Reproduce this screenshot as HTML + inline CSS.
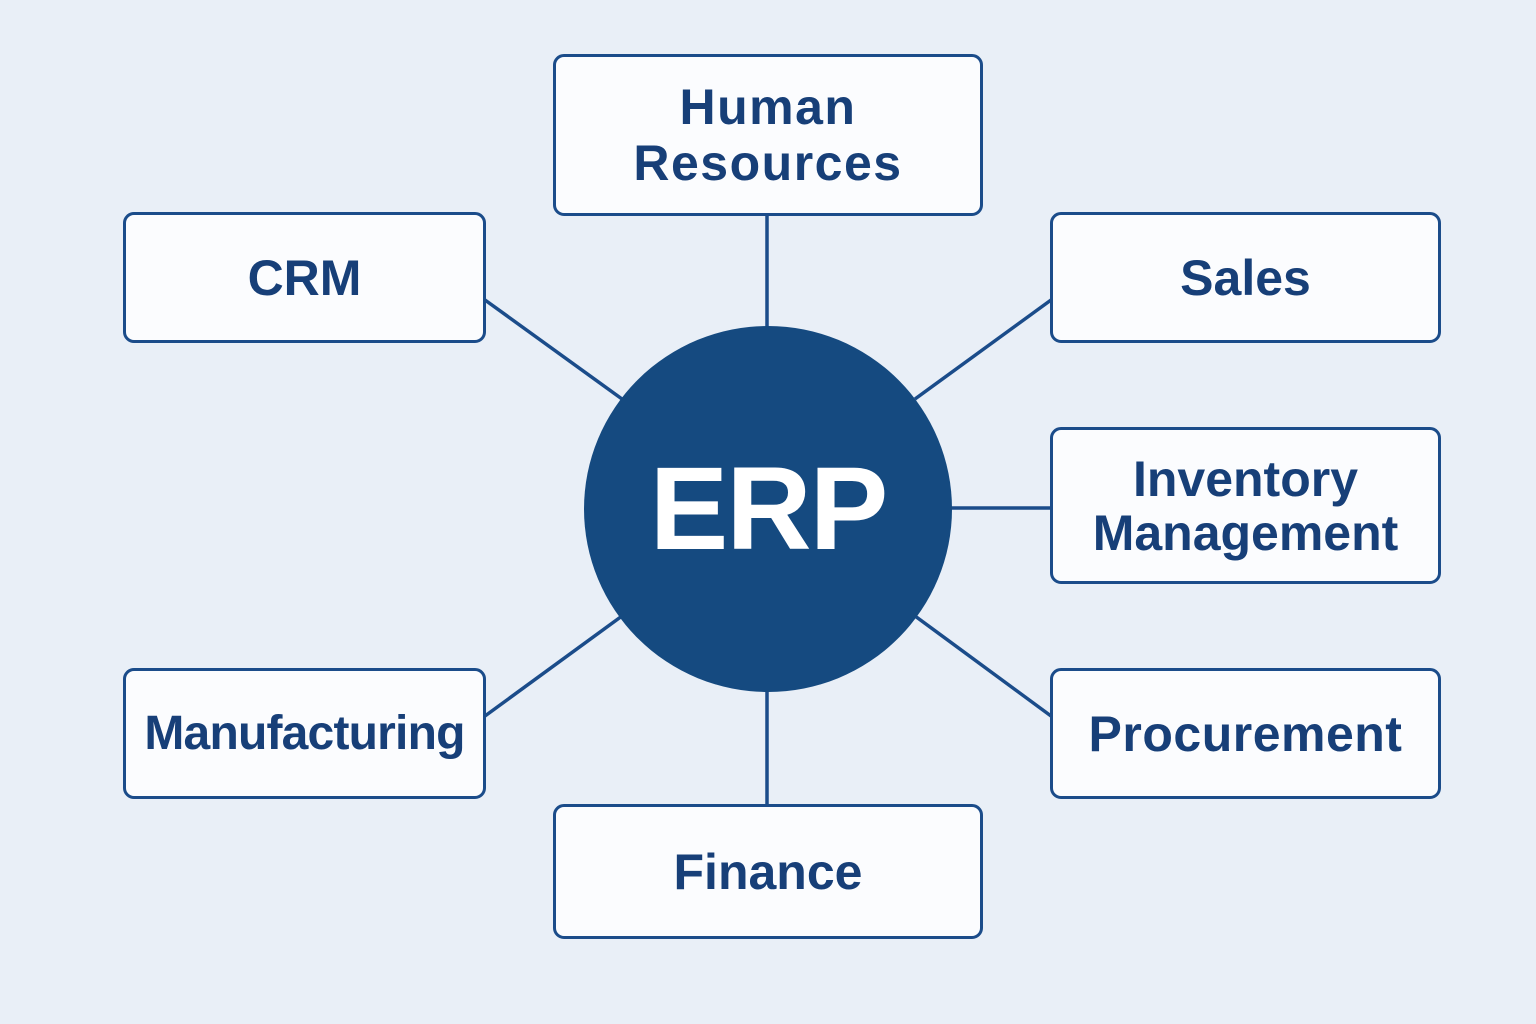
<!DOCTYPE html>
<html><head><meta charset="utf-8"><style>
html,body{margin:0;padding:0;}
body{width:1536px;height:1024px;background:#e9eff7;position:relative;overflow:hidden;font-family:"Liberation Sans",sans-serif;}
.b{position:absolute;box-sizing:border-box;border:3.5px solid #1b4c8a;border-radius:11px;background:#fbfcfe;display:flex;align-items:center;justify-content:center;text-align:center;color:#173f78;font-weight:bold;font-size:50px;line-height:56px;}
svg{position:absolute;left:0;top:0;}
.c{position:absolute;left:584px;top:326px;width:368px;height:366px;border-radius:50%;background:#154a80;display:flex;align-items:center;justify-content:center;color:#fff;font-weight:bold;font-size:118px;letter-spacing:-2px;}
</style></head><body>
<svg width="1536" height="1024">
<g stroke="#1b4c8a" stroke-width="3.5">
<line x1="767" y1="214" x2="767" y2="330"/>
<line x1="485" y1="300" x2="622" y2="399"/>
<line x1="1051" y1="300" x2="915" y2="399"/>
<line x1="950" y1="508" x2="1051" y2="508"/>
<line x1="485" y1="716" x2="622" y2="616"/>
<line x1="1051" y1="716" x2="915" y2="616"/>
<line x1="767" y1="690" x2="767" y2="805"/>
</g></svg>
<div class="c">ERP</div>
<div class="b" style="left:553px;top:54px;width:430px;height:162px;letter-spacing:1.5px;">Human<br>Resources</div>
<div class="b" style="left:123px;top:212px;width:363px;height:131px;">CRM</div>
<div class="b" style="left:1050px;top:212px;width:391px;height:131px;">Sales</div>
<div class="b" style="left:1050px;top:427px;width:391px;height:157px;line-height:54px;">Inventory<br>Management</div>
<div class="b" style="left:123px;top:668px;width:363px;height:131px;font-size:48px;letter-spacing:-0.8px;">Manufacturing</div>
<div class="b" style="left:1050px;top:668px;width:391px;height:131px;letter-spacing:0.5px;">Procurement</div>
<div class="b" style="left:553px;top:804px;width:430px;height:135px;">Finance</div>
</body></html>
